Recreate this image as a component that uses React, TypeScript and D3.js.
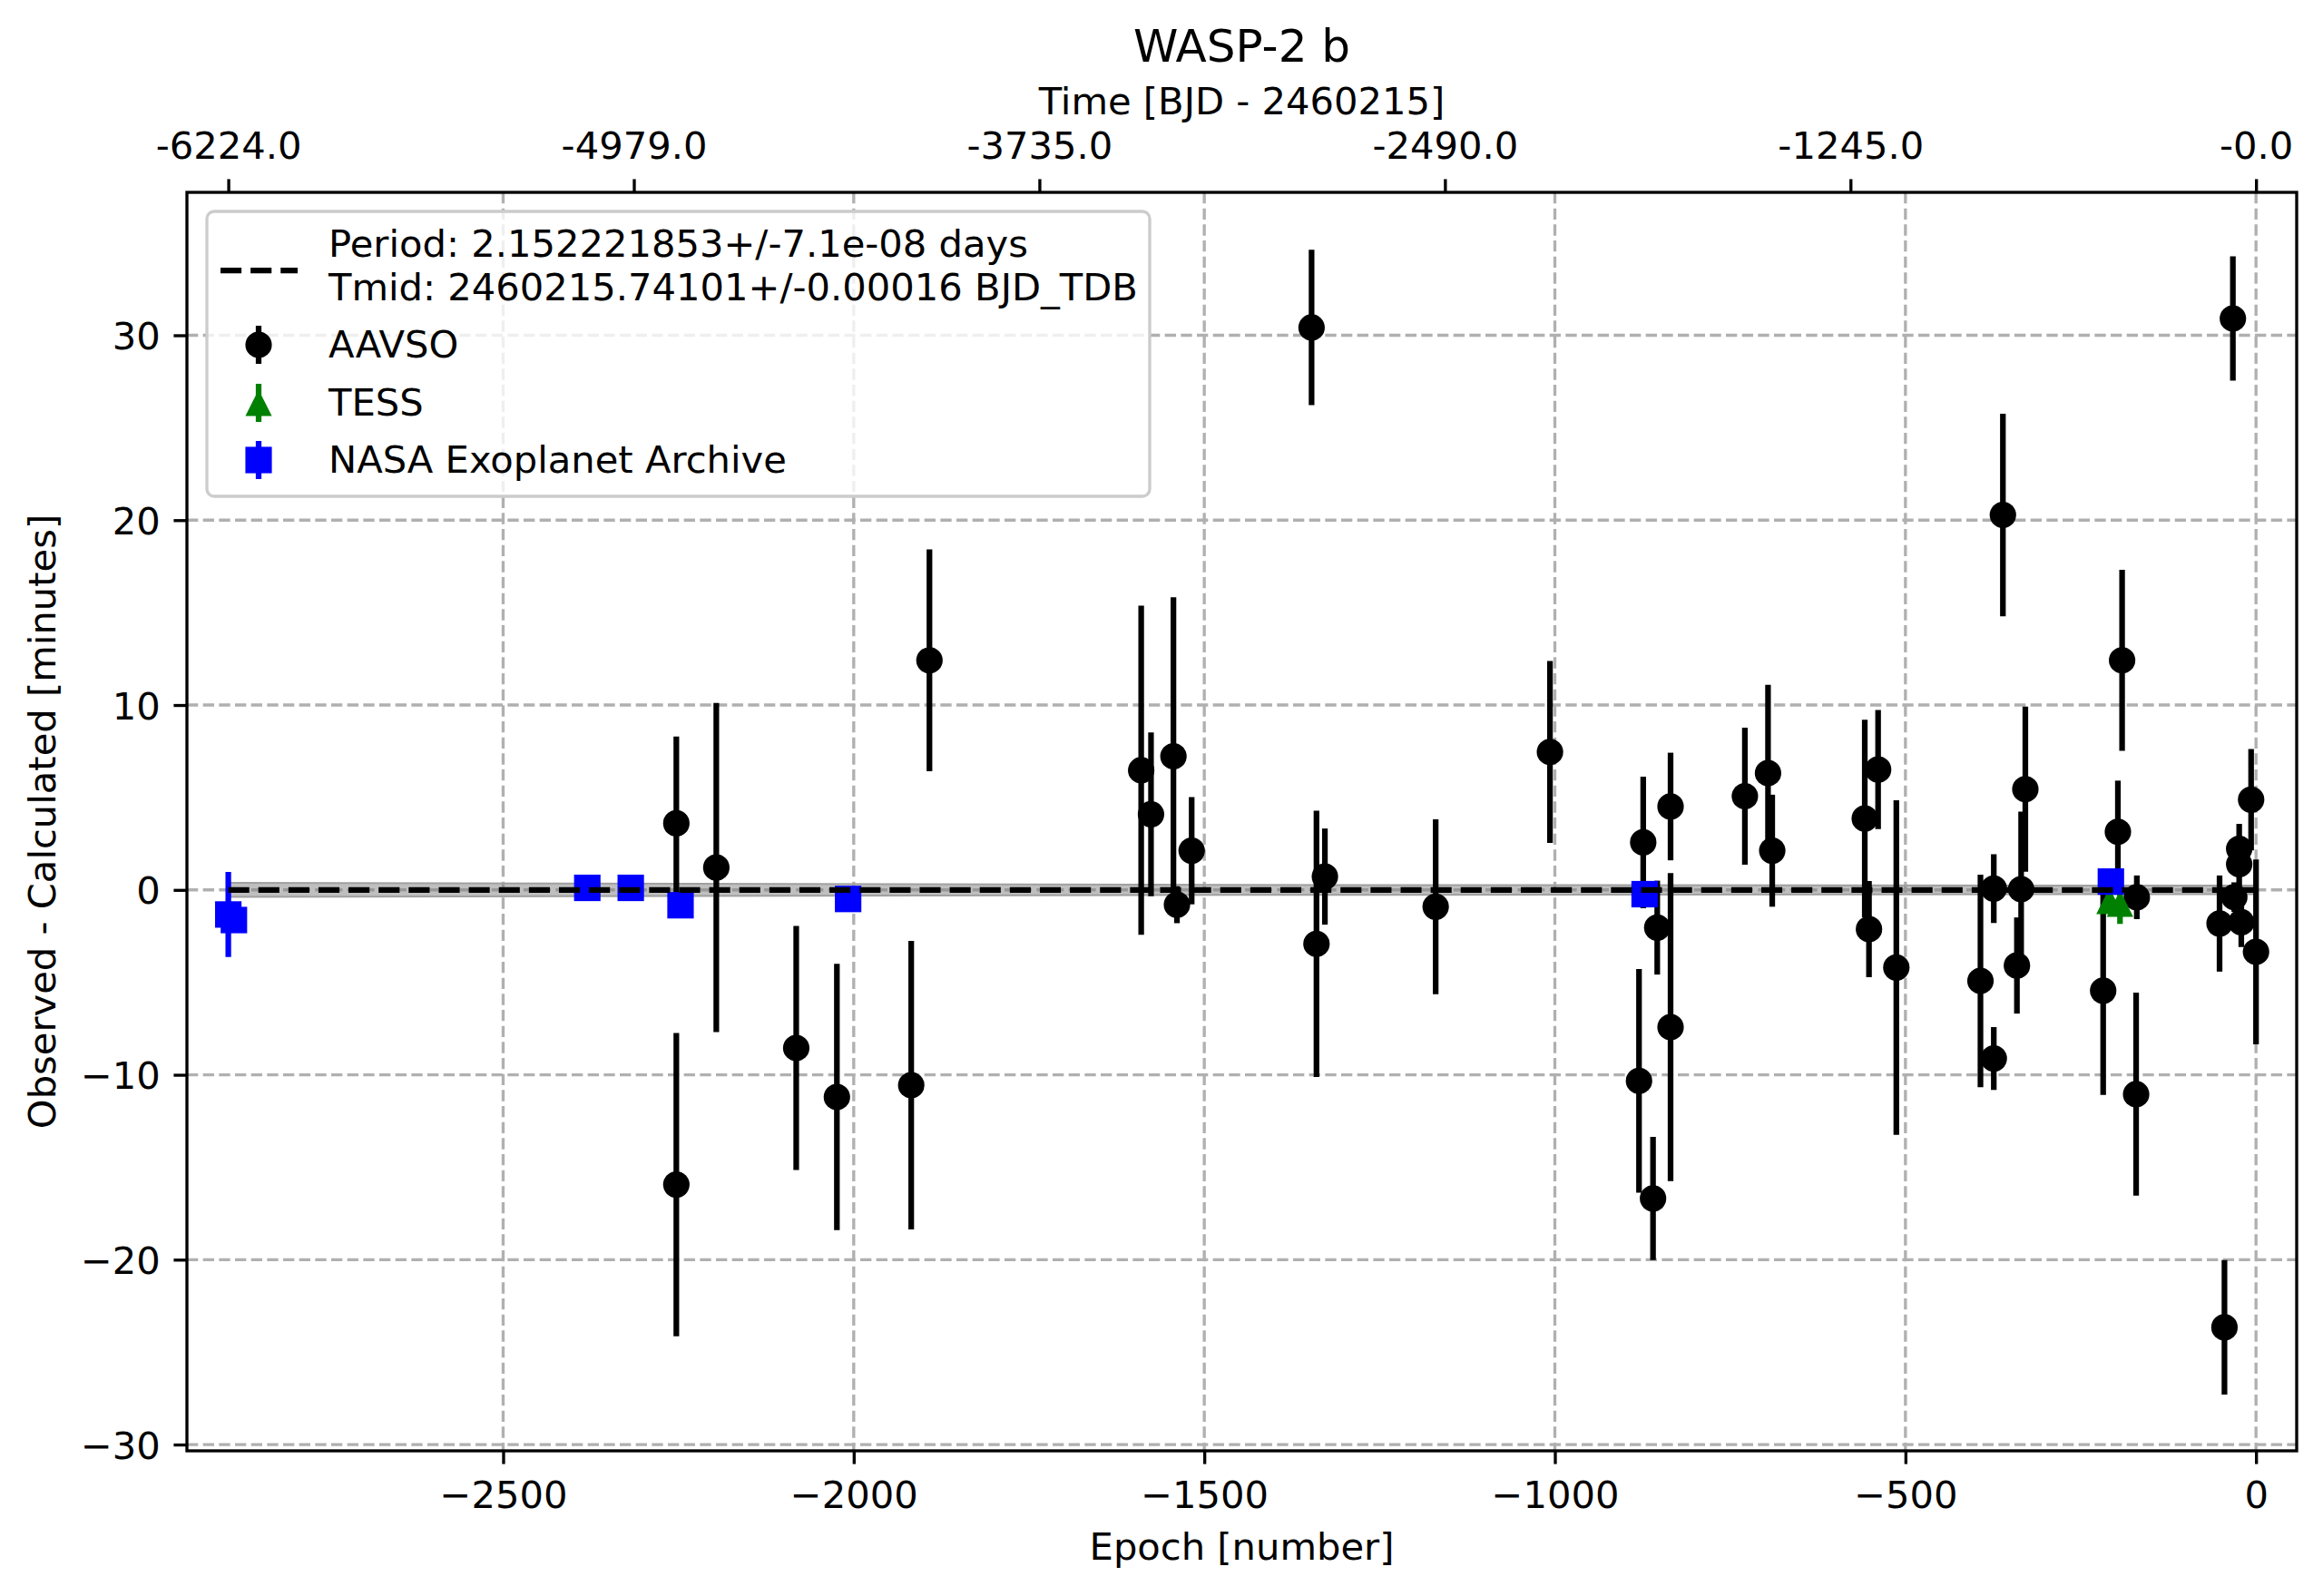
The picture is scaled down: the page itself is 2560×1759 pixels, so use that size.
import { useEffect, useRef } from 'react'
import * as d3 from 'd3'

// O-C data (epoch, minutes, 1-sigma minutes)
const aavsoEpoch = [-2253, -2253, -2196, -2082, -2024, -1918, -1892, -1590, -1576, -1544, -1539, -1518, -1347, -1340, -1328, -1170, -1007, -880, -874, -860, -854, -835, -835, -729, -696, -690, -558, -552, -539, -513, -393, -374, -374, -361, -341, -335, -329, -218, -197, -191, -170, -171, -52, -45, -33, -31, -24, -24, -21, -7, 0]
const aavsoOmc = [3.6, -15.94, 1.21, -8.55, -11.2, -10.56, 12.42, 6.47, 4.09, 7.23, -0.8, 2.12, 30.42, -2.92, 0.72, -0.91, 7.46, -10.33, 2.57, -16.69, -2.04, 4.51, -7.42, 5.07, 6.32, 2.12, 3.86, -2.12, 6.51, -4.2, -4.92, 0.07, -9.12, 20.28, -4.09, 0.04, 5.45, -5.45, 3.14, 12.42, -0.4, -11.05, -1.82, -23.66, 30.91, -0.39, 2.22, 1.39, -1.75, 4.88, -3.35]
const aavsoErr = [4.7, 8.2, 8.9, 6.6, 7.2, 7.8, 6.0, 8.9, 4.43, 8.6, 1.0, 2.9, 4.2, 7.2, 2.6, 4.73, 4.92, 6.05, 3.56, 3.33, 2.54, 2.91, 8.33, 3.71, 4.77, 3.03, 5.34, 2.6, 3.22, 9.05, 5.75, 1.86, 1.7, 5.48, 2.6, 4.2, 4.47, 5.64, 2.77, 4.9, 1.18, 5.49, 2.6, 3.64, 3.36, 0.8, 1.35, 1.2, 1.34, 2.74, 5.0]

const tessEpoch = [-209, -194]
const tessOmc = [-0.6, -0.74]
const tessErr = [0.5, 1.1]

const nasaEpoch = [-2892, -2884, -2380, -2318, -2247, -2008, -872, -207]
const nasaOmc = [-1.33, -1.63, 0.11, 0.11, -0.83, -0.49, -0.23, 0.45]
const nasaErr = [2.3, 0.4, 0.3, 0.3, 0.3, 0.3, 0.3, 0.3]

// fit uncertainty band (half width in minutes)
const bandEpoch = [-2892, -1446, 0]
const bandHalf = [0.38, 0.27, 0.23]

const xTicks = [-2500, -2000, -1500, -1000, -500, 0]
const yTicks = [-30, -20, -10, 0, 10, 20, 30]
const timeTickEpochs = [-2892, -2313.6, -1735.2, -1156.8, -578.4, 0]
const timeTickLabels = ['-6224.0', '-4979.0', '-3735.0', '-2490.0', '-1245.0', '-0.0']

const legendLines = ['Period: 2.152221853+/-7.1e-08 days', 'Tmid: 2460215.74101+/-0.00016 BJD_TDB']

export default function App() {
  const ref = useRef<HTMLDivElement>(null)

  useEffect(() => {
    if (!ref.current) return
    document.body.style.margin = '0'
    const container = ref.current
    container.innerHTML = ''

    const W = 2560
    const H = 1759
    const L = 206, R = 2531, T = 212, B = 1599
    const font = '"DejaVu Sans", sans-serif'
    const pt = 300 / 72
    const fs = 10 * pt
    const lw = 1.5 * pt
    const ms = 7 * pt / 2
    const thin = 0.8 * pt

    const svg = d3.select(container).append('svg')
      .attr('width', W).attr('height', H)
      .style('display', 'block')
      .style('font-family', font)
    svg.append('rect').attr('width', W).attr('height', H).attr('fill', '#fff')

    const x = d3.scaleLinear().domain([-2951, 58]).range([L, R])
    const y = d3.scaleLinear().domain([-30.34, 37.73]).range([B, T])

    const clip = svg.append('clipPath').attr('id', 'plot-clip')
    clip.append('rect').attr('x', L).attr('y', T).attr('width', R - L).attr('height', B - T)

    // grid
    const grid = svg.append('g').attr('stroke', '#b0b0b0').attr('stroke-width', thin)
      .attr('stroke-dasharray', `${3.7 * thin},${1.6 * thin}`)
    xTicks.forEach(t => grid.append('line').attr('x1', x(t)).attr('x2', x(t)).attr('y1', T).attr('y2', B))
    yTicks.forEach(t => grid.append('line').attr('x1', L).attr('x2', R).attr('y1', y(t)).attr('y2', y(t)))

    const plot = svg.append('g').attr('clip-path', 'url(#plot-clip)')

    // band
    const area = d3.area<number>()
      .x((_, i) => x(bandEpoch[i]))
      .y0((_, i) => y(-bandHalf[i]))
      .y1((_, i) => y(bandHalf[i]))
    plot.append('path').datum(bandHalf).attr('d', area)
      .attr('fill', '#808080').attr('fill-opacity', 0.5)
      .attr('stroke', '#a0a0a0').attr('stroke-width', 2)

    const marker = (g: d3.Selection<SVGGElement, unknown, null, undefined>, shape: string, cx: number, cy: number, color: string) => {
      if (shape === 'o') g.append('circle').attr('cx', cx).attr('cy', cy).attr('r', ms).attr('fill', color)
      else if (shape === 's') g.append('rect').attr('x', cx - ms).attr('y', cy - ms).attr('width', 2 * ms).attr('height', 2 * ms).attr('fill', color)
      else g.append('path').attr('d', `M${cx},${cy - ms}L${cx - ms},${cy + ms}L${cx + ms},${cy + ms}Z`).attr('fill', color)
    }

    const errGroup = (ep: number[], v: number[], e: number[], color: string, shape: string) => {
      const g = plot.append('g')
      ep.forEach((d, i) => {
        g.append('line')
          .attr('x1', x(d)).attr('x2', x(d))
          .attr('y1', y(v[i] - e[i])).attr('y2', y(v[i] + e[i]))
          .attr('stroke', color).attr('stroke-width', lw)
      })
      ep.forEach((d, i) => marker(g, shape, x(d), y(v[i]), color))
    }
    errGroup(aavsoEpoch, aavsoOmc, aavsoErr, '#000000', 'o')
    errGroup(tessEpoch, tessOmc, tessErr, '#008000', '^')
    errGroup(nasaEpoch, nasaOmc, nasaErr, '#0000ff', 's')

    // linear ephemeris (zero O-C)
    const dash = `${3.7 * lw},${1.6 * lw}`
    plot.append('line')
      .attr('x1', x(bandEpoch[0])).attr('x2', x(bandEpoch[bandEpoch.length - 1]))
      .attr('y1', y(0)).attr('y2', y(0))
      .attr('stroke', '#000').attr('stroke-width', lw).attr('stroke-dasharray', dash)

    // axes
    const gx = svg.append('g').attr('transform', `translate(0,${B})`)
      .call(d3.axisBottom(x).tickValues(xTicks).tickSize(3.5 * pt).tickPadding(3.5 * pt).tickFormat(d3.format('d')))
    gx.selectAll('text').attr('dy', null).attr('y', 63).style('font-size', `${fs}px`).style('font-family', font).attr('fill', '#000')

    const gy = svg.append('g').attr('transform', `translate(${L},0)`)
      .call(d3.axisLeft(y).tickValues(yTicks).tickSize(3.5 * pt).tickPadding(3.5 * pt).tickFormat(d3.format('d')))
    gy.selectAll('text').attr('dy', '0.36em').attr('x', -7 * pt).style('font-size', `${fs}px`).style('font-family', font).attr('fill', '#000')

    const gt = svg.append('g').attr('transform', `translate(0,${T})`)
      .call(d3.axisTop(x).tickValues(timeTickEpochs).tickSize(3.5 * pt).tickPadding(3.5 * pt).tickFormat((_, i) => timeTickLabels[i]))
    gt.selectAll('text').attr('dy', null).attr('y', -37).style('font-size', `${fs}px`).style('font-family', font).attr('fill', '#000')

    svg.selectAll('.domain').remove()
    svg.selectAll('.tick line').attr('stroke-width', thin).attr('stroke', '#000')

    svg.append('rect').attr('x', L).attr('y', T).attr('width', R - L).attr('height', B - T)
      .attr('fill', 'none').attr('stroke', '#000').attr('stroke-width', thin)

    // labels
    const cxAx = (L + R) / 2
    svg.append('text').attr('x', cxAx).attr('y', 68).attr('text-anchor', 'middle').style('font-size', `${12 * pt}px`).text('WASP-2 b')
    svg.append('text').attr('x', cxAx).attr('y', 126).attr('text-anchor', 'middle').style('font-size', `${fs}px`).text('Time [BJD - 2460215]')
    svg.append('text').attr('x', cxAx).attr('y', 1719).attr('text-anchor', 'middle').style('font-size', `${fs}px`).text('Epoch [number]')
    svg.append('text').attr('transform', `translate(61,${(T + B) / 2}) rotate(-90)`).attr('text-anchor', 'middle')
      .style('font-size', `${fs}px`).text('Observed - Calculated [minutes]')

    // legend
    const lg = svg.append('g')
    lg.append('rect').attr('x', 228).attr('y', 233).attr('width', 1039).attr('height', 314).attr('rx', 8)
      .attr('fill', '#fff').attr('fill-opacity', 0.8).attr('stroke', '#cccccc').attr('stroke-width', thin)
    lg.append('line').attr('x1', 243).attr('x2', 328).attr('y1', 298).attr('y2', 298)
      .attr('stroke', '#000').attr('stroke-width', lw).attr('stroke-dasharray', dash)
    legendLines.forEach((s, i) => {
      lg.append('text').attr('x', 362).attr('y', 283 + i * 48).style('font-size', `${fs}px`).text(s)
    })
    const items = [
      { name: 'AAVSO', color: '#000000', shape: 'o', cy: 380 },
      { name: 'TESS', color: '#008000', shape: '^', cy: 444 },
      { name: 'NASA Exoplanet Archive', color: '#0000ff', shape: 's', cy: 507 },
    ]
    items.forEach(it => {
      const cx = 285
      lg.append('line').attr('x1', cx).attr('x2', cx).attr('y1', it.cy - 21).attr('y2', it.cy + 21)
        .attr('stroke', it.color).attr('stroke-width', lw)
      marker(lg, it.shape, cx, it.cy, it.color)
      lg.append('text').attr('x', 362).attr('y', it.cy + 14).style('font-size', `${fs}px`).text(it.name)
    })

    return () => { container.innerHTML = '' }
  }, [])

  return <div ref={ref} />
}
